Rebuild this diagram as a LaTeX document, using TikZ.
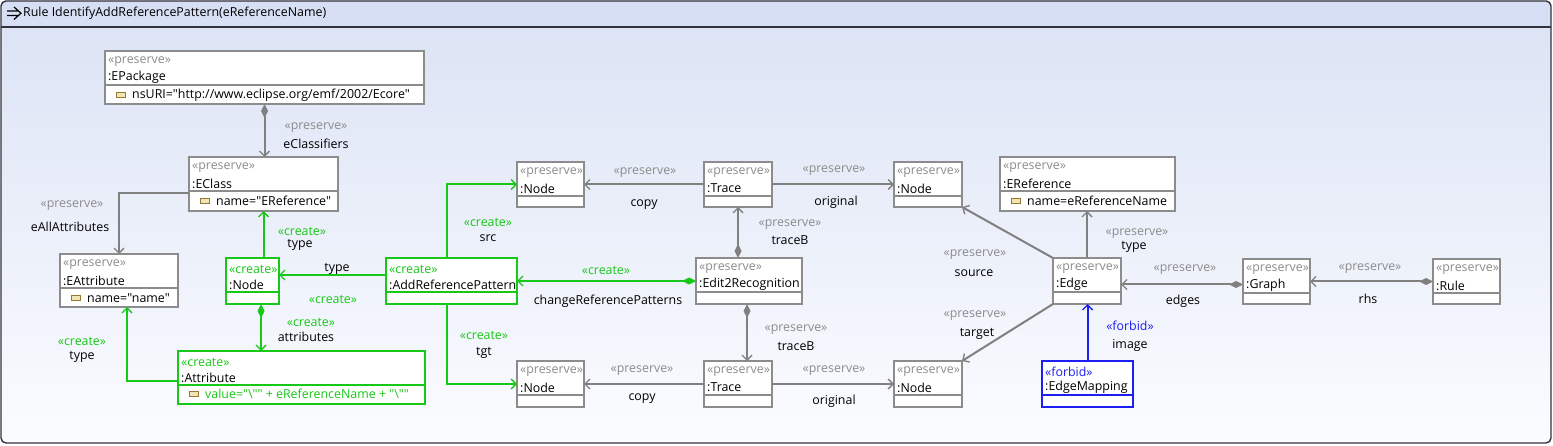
\documentclass[tikz,border=0pt]{standalone}
\usepackage{fontspec}
\newfontfamily\uifont{Open Sans}
\usetikzlibrary{arrows.meta,calc}
\definecolor{prescol}{RGB}{140,140,140}
\definecolor{edgecol}{RGB}{128,128,128}
\definecolor{creacol}{RGB}{24,200,24}
\definecolor{forbcol}{RGB}{30,30,240}
\definecolor{titlebar}{RGB}{214,223,243}
\definecolor{bgtop}{RGB}{218,226,244}
\definecolor{bgbot}{RGB}{251,252,255}
\definecolor{iconfill}{RGB}{240,230,180}
\definecolor{icondraw}{RGB}{150,120,50}
\definecolor{framecol}{RGB}{50,50,60}
\tikzset{
  pres box/.style={draw=prescol, fill=white, line width=1.4pt, inner sep=0pt, outer sep=0pt},
  crea box/.style={draw=creacol, fill=white, line width=1.8pt, inner sep=0pt, outer sep=0pt},
  forb box/.style={draw=forbcol, fill=white, line width=1.5pt, inner sep=0pt, outer sep=0pt},
  pres line/.style={draw=prescol, line width=1.4pt},
  crea line/.style={draw=creacol, line width=1.8pt},
  forb line/.style={draw=forbcol, line width=1.5pt},
  stereo pres/.style={text=prescol, inner sep=0pt},
  stereo crea/.style={text=creacol, inner sep=0pt},
  stereo forb/.style={text=forbcol, inner sep=0pt},
  ttl/.style={text=black, inner sep=0pt},
  attrtext/.style={text=black, inner sep=0pt},
  attrcrea/.style={text=creacol, inner sep=0pt},
  icon/.style={draw=icondraw, fill=iconfill, line width=0.9pt, minimum width=9pt, minimum height=5pt, inner sep=0pt},
  lbl/.style={text=black, inner sep=0pt},
  lblp/.style={text=prescol, inner sep=0pt},
  lblc/.style={text=creacol, inner sep=0pt},
  lblf/.style={text=forbcol, inner sep=0pt},
  pedge/.style={draw=edgecol, line width=2pt, -{Straight Barb[length=5pt,width=10pt,line width=1.4pt]}},
  cedge/.style={draw=creacol, line width=2pt, -{Straight Barb[length=5pt,width=10pt,line width=1.4pt]}},
  fedge/.style={draw=forbcol, line width=2pt, -{Straight Barb[length=5pt,width=10pt,line width=1.4pt]}},
  pcomp/.style={draw=edgecol, line width=2pt, {Diamond[length=14pt,width=7pt,fill=edgecol]}-{Straight Barb[length=5pt,width=10pt,line width=1.4pt]}},
  ccomp/.style={draw=creacol, line width=2pt, {Diamond[length=14pt,width=7pt,fill=creacol]}-{Straight Barb[length=5pt,width=10pt,line width=1.4pt]}},
}
% box: name, kind, left, top, right, bottom, stereotype, title
\newcommand\UB[8]{%
  \node[#2 box, minimum width={(#5)-(#3)}, minimum height={(#6)-(#4)}, anchor=north west] (#1) at (#3,#4) {};
  \draw[#2 line] (#3,{#4+34}) -- (#5,{#4+34});
  \node[stereo #2, anchor=west] (#1-s) at ({#3+3},{#4+11}) {«#7»};
  \node[ttl, anchor=west] (#1-t) at ({#3+3},{#4+26.5}) {#8};
}
% attribute: name, left, separator y, text, text style
\newcommand\UA[5]{%
  \node[icon] (#1-i) at ({#2+15.5},{#3+10}) {};
  \node[#5, anchor=west] (#1-a) at ({#2+27},{#3+10}) {#4};
}
\begin{document}
\begin{tikzpicture}[x=1pt,y=-1pt,font=\uifont\fontsize{12.4}{14}\selectfont]
\useasboundingbox (0,0) rectangle (1553,446);
% frame
\shade[top color=bgtop, bottom color=bgbot, rounded corners=5pt] (1,1) rectangle (1551,443);
\fill[titlebar, rounded corners=5pt] (1,1) rectangle (1551,27);
\draw[framecol, line width=1.2pt] (1,27) -- (1551,27);
\draw[framecol, line width=1.4pt, rounded corners=5pt] (1,1) rectangle (1551,443);
\draw[black, line width=1.2pt] (7,11) -- (18,11) (7,15.5) -- (18,15.5) (14,7) -- (21,13.2) -- (14,19.5);
\node[lbl, anchor=west] (title) at (23,13.5) {Rule IdentifyAddReferencePattern(eReferenceName)};

% boxes
\UB{EPackage}{pres}{105}{51}{424}{104}{preserve}{:EPackage}
\UA{EPackage}{105}{85}{nsURI="http://www.eclipse.org/emf/2002/Ecore"}{attrtext}
\UB{EClass}{pres}{189}{157}{338}{211}{preserve}{:EClass}
\UA{EClass}{189}{191}{name="EReference"}{attrtext}
\UB{EAttr}{pres}{60}{254}{178}{307}{preserve}{:EAttribute}
\UA{EAttr}{60}{288}{name="name"}{attrtext}
\UB{NodeL}{crea}{226}{258}{279}{304}{create}{:Node}
\UB{ARP}{crea}{386}{258}{517}{304}{create}{:AddReferencePattern}
\UB{Attr}{crea}{178}{351}{425}{404}{create}{:Attribute}
\UA{Attr}{178}{384}{value="\textbackslash"" + eReferenceName + "\textbackslash""}{attrcrea}
\UB{NodeT}{pres}{517}{162}{584}{207}{preserve}{:Node}
\UB{TraceT}{pres}{704}{162}{772}{207}{preserve}{:Trace}
\UB{E2R}{pres}{696}{258}{802}{304}{preserve}{:Edit2Recognition}
\UB{NodeB}{pres}{517}{361}{584}{407}{preserve}{:Node}
\UB{TraceB}{pres}{704}{361}{772}{407}{preserve}{:Trace}
\UB{NodeTR}{pres}{894}{162}{962}{207}{preserve}{:Node}
\UB{ERef}{pres}{1000}{157}{1175}{211}{preserve}{:EReference}
\UA{ERef}{1000}{191}{name=eReferenceName}{attrtext}
\UB{Edge}{pres}{1053}{258}{1121}{304}{preserve}{:Edge}
\UB{NodeBR}{pres}{894}{361}{962}{407}{preserve}{:Node}
\UB{EM}{forb}{1042}{361}{1133}{407}{forbid}{:EdgeMapping}
\UB{Graph}{pres}{1243}{259}{1310}{304}{preserve}{:Graph}
\UB{Rule}{pres}{1433}{259}{1500}{304}{preserve}{:Rule}

% connectors
\draw[pcomp] (EPackage.south) -- (EPackage.south |- EClass.north);
\draw[pedge] ([yshift=-9pt]EClass.west) -| (EAttr.north);
\draw[cedge] (EClass.south |- NodeL.north) -- (EClass.south);
\draw[cedge] ([yshift=6pt]ARP.west) -- ([yshift=6pt]ARP.west -| NodeL.east);
\draw[ccomp] ([xshift=8.5pt]NodeL.south) -- ([xshift=8.5pt]NodeL.south |- Attr.north);
\draw[cedge] ([yshift=-3.5pt]Attr.west) -| ([xshift=8pt]EAttr.south);
\draw[cedge] ([xshift=-4.5pt]ARP.north) |- (NodeT.west);
\draw[cedge] ([xshift=-5pt]ARP.south) |- (NodeB.west);
\draw[ccomp] (E2R.west) -- (E2R.west -| ARP.east);
\draw[pedge] (TraceT.west) -- (NodeT.east);
\draw[pedge] (TraceT.east) -- (NodeTR.west);
\draw[pcomp] (TraceT.south |- E2R.north) -- (TraceT.south);
\draw[pcomp] ([xshift=-2pt]E2R.south) -- ([xshift=-2pt]E2R.south |- TraceB.north);
\draw[pedge] (TraceB.west) -- (NodeB.east);
\draw[pedge] (TraceB.east) -- (NodeBR.west);
\draw[pedge] (Edge.north west) -- (NodeTR.south east);
\draw[pedge] (Edge.south west) -- (NodeBR.north east);
\draw[pedge] (Edge.north) -- (Edge.north |- ERef.south);
\draw[pcomp] ([yshift=-3pt]Graph.west) -- ([yshift=-3pt]Graph.west -| Edge.east);
\draw[pcomp] (Rule.west) -- (Rule.west -| Graph.east);
\draw[fedge] (EM.north) -- (EM.north |- Edge.south);

% labels
\node[lblp] (l1s) at (316,128) {«preserve»};
\node[lbl] (l1n) at (316,144) {eClassifiers};
\node[lblp] (l2s) at (72,206) {«preserve»};
\node[lbl] (l2n) at (70,227) {eAllAttributes};
\node[lblc] (l3s) at (302,231) {«create»};
\node[lbl] (l3n) at (300,245) {type};
\node[lbl] (l4n) at (337,269) {type};
\node[lblc] (l4s) at (333,299) {«create»};
\node[lblc] (l5s) at (311,322) {«create»};
\node[lbl] (l5n) at (306,337) {attributes};
\node[lblc] (l6s) at (82,341) {«create»};
\node[lbl] (l6n) at (82,357) {type};
\node[lblc] (l7s) at (488,222) {«create»};
\node[lbl] (l7n) at (488,238) {src};
\node[lblc] (l8s) at (484,335) {«create»};
\node[lbl] (l8n) at (484,353) {tgt};
\node[lblc] (l9s) at (606,270) {«create»};
\node[lbl] (l9n) at (608,301) {changeReferencePatterns};
\node[lblp] (l10s) at (645,173) {«preserve»};
\node[lbl] (l10n) at (644,205) {copy};
\node[lblp] (l11s) at (834,171) {«preserve»};
\node[lbl] (l11n) at (836,202) {original};
\node[lblp] (l12s) at (790,225) {«preserve»};
\node[lbl] (l12n) at (790,240) {traceB};
\node[lblp] (l13s) at (796,330) {«preserve»};
\node[lbl] (l13n) at (796,346) {traceB};
\node[lblp] (l14s) at (642,371) {«preserve»};
\node[lbl] (l14n) at (642,399) {copy};
\node[lblp] (l15s) at (834,371) {«preserve»};
\node[lbl] (l15n) at (834,401) {original};
\node[lblp] (l16s) at (975,255) {«preserve»};
\node[lbl] (l16n) at (974,273) {source};
\node[lblp] (l17s) at (975,316) {«preserve»};
\node[lbl] (l17n) at (977,334) {target};
\node[lblp] (l18s) at (1137,234) {«preserve»};
\node[lbl] (l18n) at (1134,247) {type};
\node[lblp] (l19s) at (1185,270) {«preserve»};
\node[lbl] (l19n) at (1183,301) {edges};
\node[lblp] (l20s) at (1370,269) {«preserve»};
\node[lbl] (l20n) at (1368,299) {rhs};
\node[lblf] (l21s) at (1130,326) {«forbid»};
\node[lbl] (l21n) at (1130,345) {image};
\end{tikzpicture}
\end{document}
